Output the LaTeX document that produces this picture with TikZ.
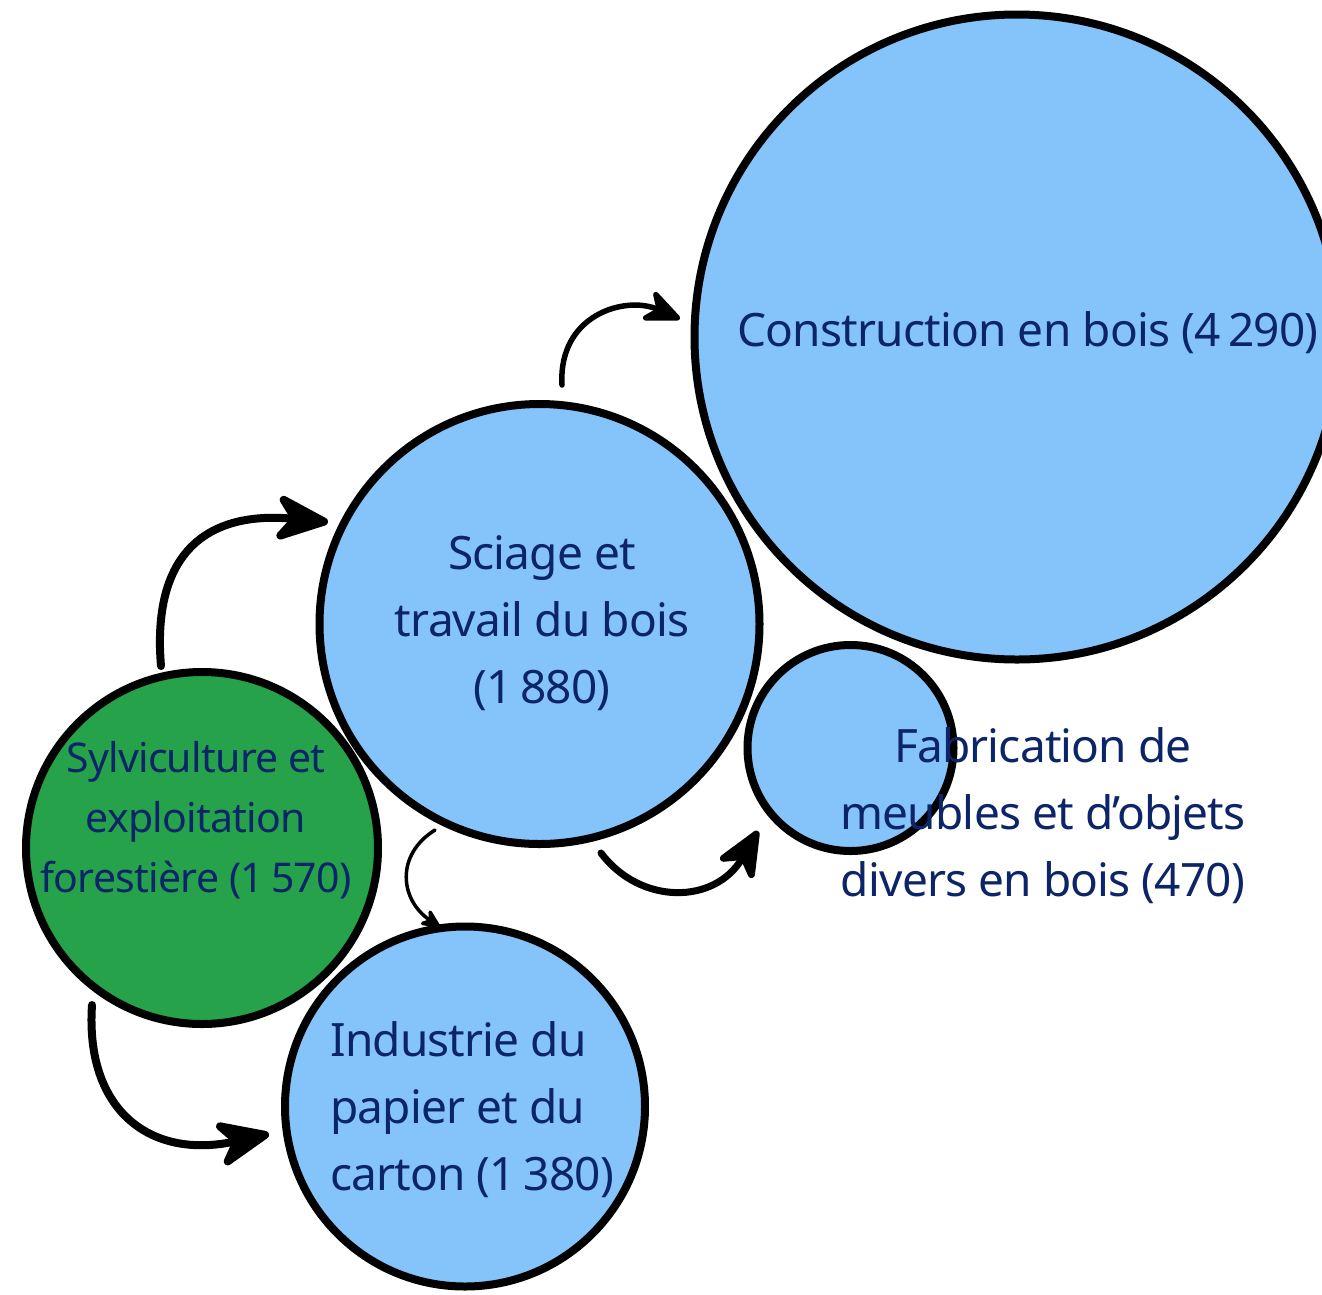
\documentclass[tikz,border=0pt]{standalone}
\usepackage{fontspec}
\setmainfont{Noto Sans}[LetterSpace=-1.8]
\usetikzlibrary{arrows.meta}
\definecolor{bluefill}{RGB}{133,196,251}
\definecolor{greenfill}{RGB}{38,163,74}
\definecolor{navytext}{RGB}{12,36,104}
\tikzset{
  bubble/.style={circle, draw=black, line width=8pt, inner sep=0pt, fill=bluefill},
  lbl/.style={text=navytext, align=center, inner sep=0pt, font=\fontsize{46}{67}\selectfont},
  flow/.style={line width=#1, line cap=round},
}
\begin{document}
\begin{tikzpicture}[x=1pt,y=-1pt]
\useasboundingbox (0,0) rectangle (1322,1294);
\clip (0,0) rectangle (1322,1294);
% circles
\node[bubble, minimum size=645pt] (constr) at (1017,337) {};
\node[bubble, minimum size=440pt] (sciage) at (539.5,624) {};
\node[bubble, minimum size=206pt] (fabr) at (850.5,748) {};
\node[bubble, minimum size=360pt] (indus) at (465,1106.5) {};
\node[bubble, fill=greenfill, minimum size=352pt] (sylv) at (202,848) {};
% labels
\node[lbl] (tconstr) at (1028,333) {Construction en bois (4\,290)};
\node[lbl] (tsciage) at (542,623) {Sciage et\\travail du bois\\(1\,880)};
\node[lbl, align=left, anchor=west] (tindus) at (330,1110) {Industrie du\\papier et du\\carton (1\,380)};
\node[lbl] (tfabr) at (1043,816) {Fabrication de\\meubles et d’objets\\divers en bois (470)};
\node[lbl, font=\fontsize{41}{60}\selectfont] (tsylv) at (196,820) {Sylviculture et\\exploitation\\forestière (1\,570)};
% arrow coordinates
\coordinate (a1s) at (161,666);
\coordinate (a1e) at (328,522);
\coordinate (a2s) at (92,1005);
\coordinate (a2e) at (269,1134);
\coordinate (a3s) at (562,385);
\coordinate (a3e) at (680,319);
\coordinate (a4s) at (435,830);
\coordinate (a4e) at (440,927);
\coordinate (a5s) at (601,853);
\coordinate (a5e) at (758,831);
% arrows
\draw[flow=8pt, -{Stealth[length=64pt,width=54pt,inset=20pt,round]}]
  (a1s) .. controls (152,560) and (200,510) .. (a1e);
\draw[flow=8pt, -{Stealth[length=64pt,width=54pt,inset=20pt,round]}]
  (a2s) .. controls (85,1110) and (150,1160) .. (a2e);
\draw[flow=5.5pt, -{Stealth[length=44pt,width=38pt,inset=14pt,round]}]
  (a3s) .. controls (558,315) and (625,295) .. (a3e);
\draw[flow=3.5pt, -{Stealth[length=24pt,width=22pt,inset=8pt,round]}]
  (a4s) .. controls (395,855) and (400,900) .. (a4e);
\draw[flow=7pt, -{Stealth[length=56pt,width=48pt,inset=17pt,round]}]
  (a5s) .. controls (640,905) and (715,905) .. (a5e);
\end{tikzpicture}
\end{document}
